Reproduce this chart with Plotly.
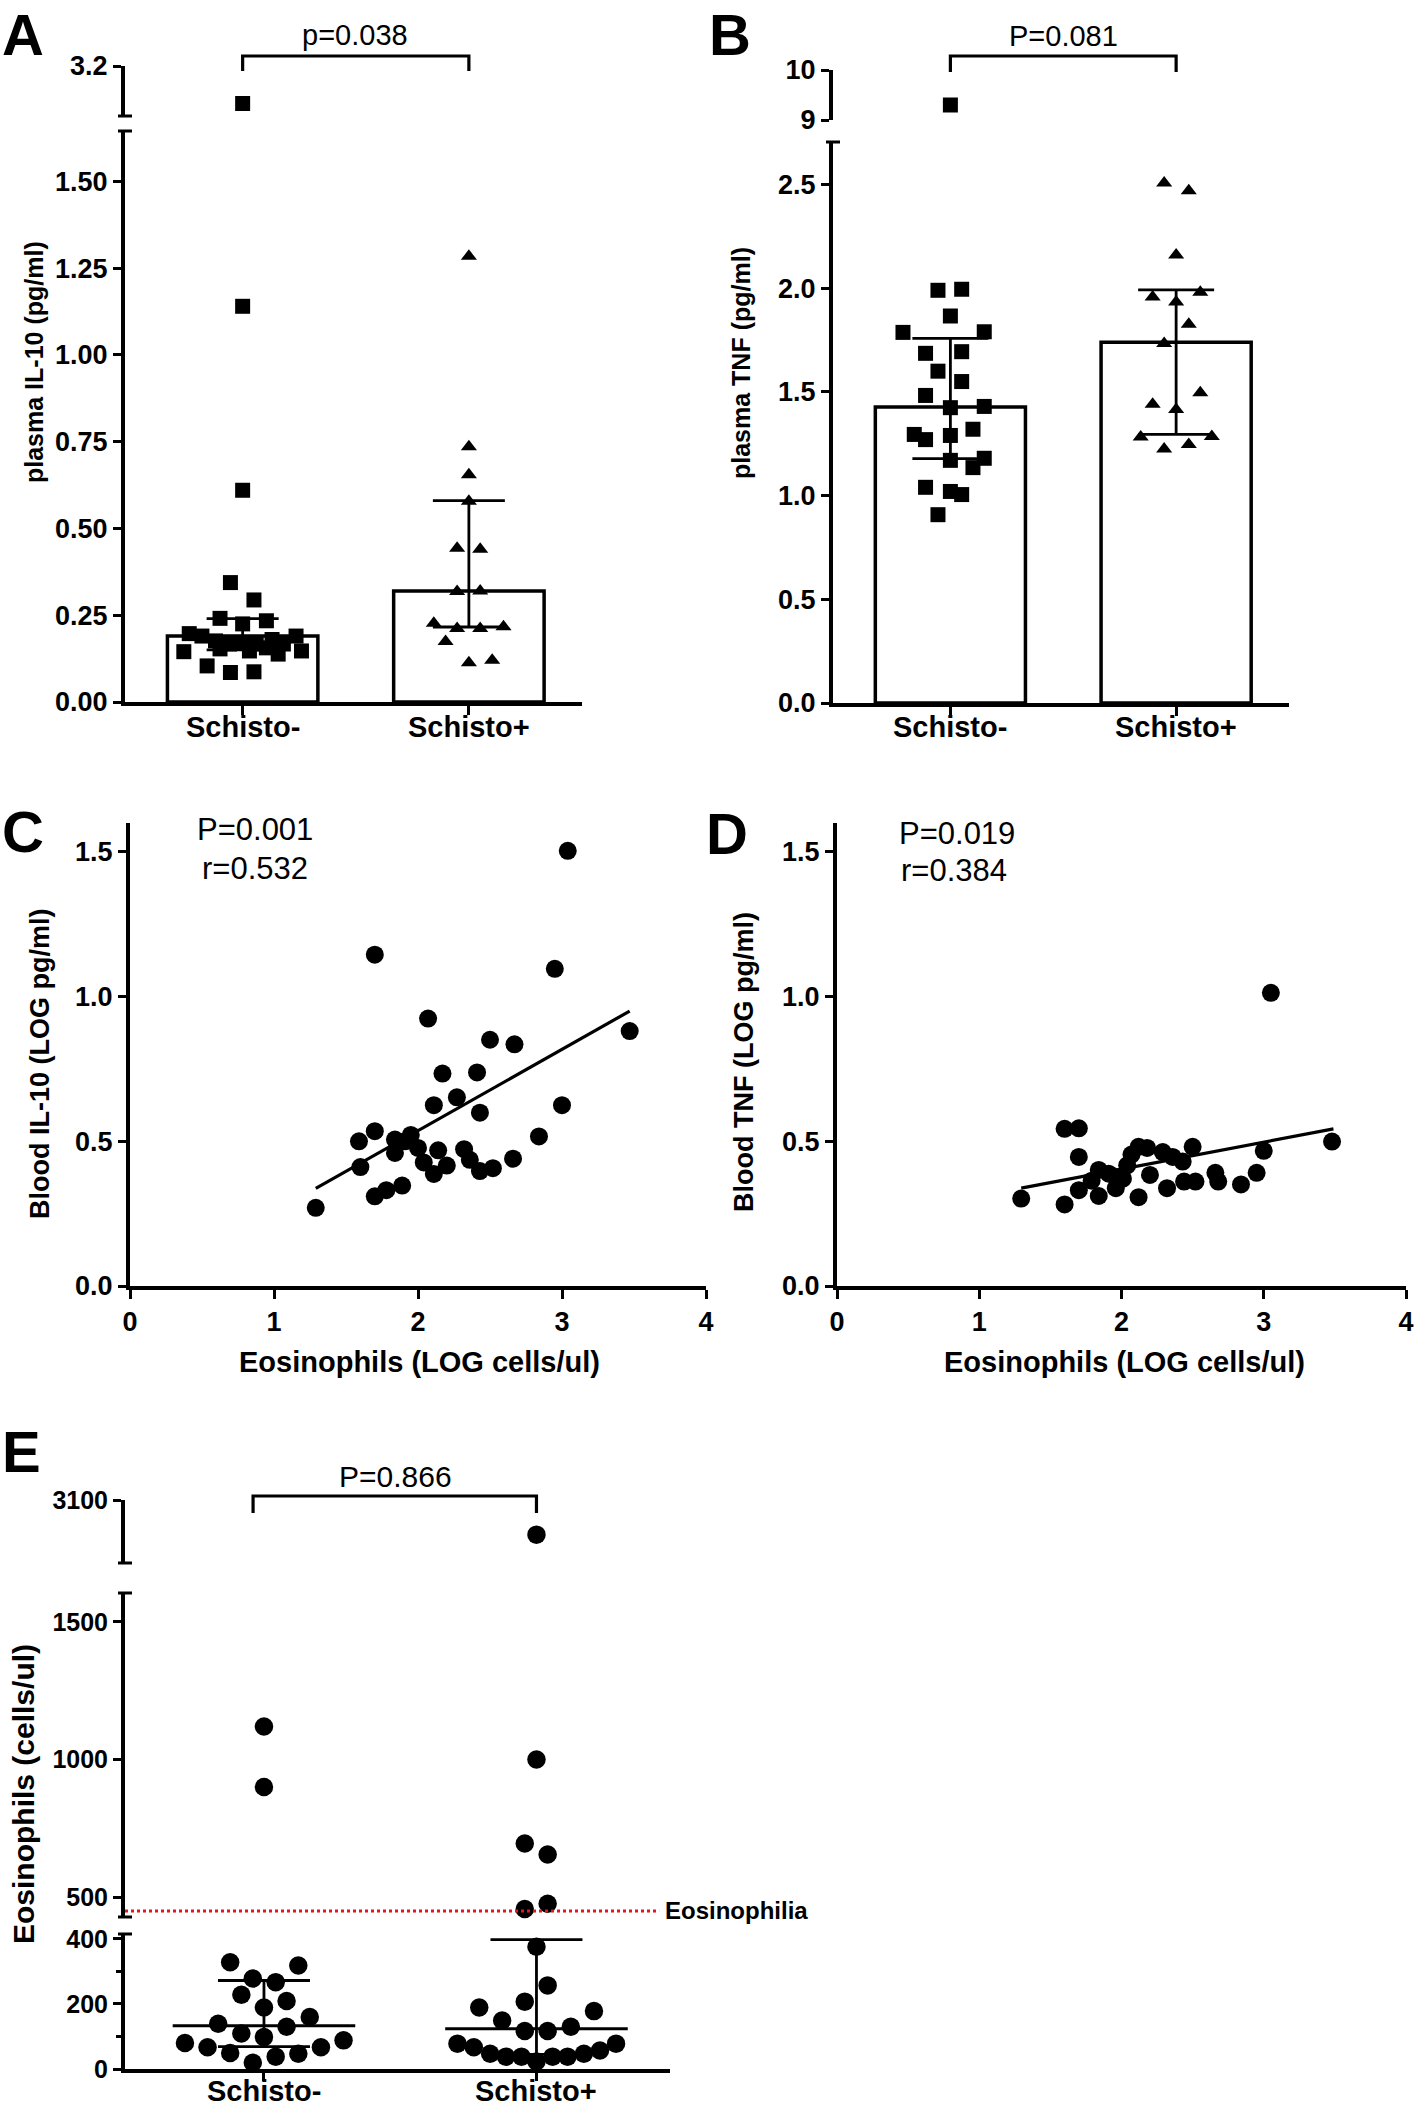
import plotly.graph_objects as go

W, H = 1418, 2107
FONT = "Liberation Sans, Arial, Helvetica, sans-serif"

# ------------------------------------------------------------------ data
groups = ["Schisto-", "Schisto+"]

# Panel A : plasma IL-10 (pg/ml)
a_neg_vals = [3.05, 1.14, 0.61, 0.344, 0.294, 0.241, 0.234, 0.225, 0.197, 0.19, 0.19, 0.176, 0.167,
              0.17, 0.167, 0.18, 0.167, 0.153, 0.147, 0.156, 0.145, 0.147, 0.138, 0.104, 0.085, 0.087]
a_neg_off = [0, 0, 0, -0.054, 0.05, -0.10, 0.105, 0, -0.236, 0.236, -0.18, -0.12, -0.058,
             0, 0.06, 0.13, 0.18, -0.10, 0.03, 0.105, -0.26, 0.26, 0.157, -0.157, -0.054, 0.05]
a_pos_vals = [1.284, 0.735, 0.655, 0.578, 0.443, 0.44, 0.318, 0.32, 0.227, 0.212, 0.212, 0.217, 0.174, 0.113, 0.12]
a_pos_off = [0, 0, 0, 0, -0.052, 0.05, -0.052, 0.05, -0.155, -0.052, 0.05, 0.153, -0.103, 0, 0.103]
a_bar = [0.19, 0.32]
a_hi = [0.24, 0.58]
a_lo = [0.15, 0.216]

# Panel B : plasma TNF (pg/ml)
b_neg_vals = [9.3, 1.99, 1.995, 1.866, 1.787, 1.79, 1.686, 1.694, 1.60, 1.55, 1.483, 1.424, 1.43,
              1.295, 1.27, 1.29, 1.32, 1.17, 1.18, 1.135, 1.04, 1.02, 1.005, 0.908]
b_neg_off = [0, -0.055, 0.05, 0, -0.21, 0.15, -0.11, 0.05, -0.055, 0.05, -0.11, 0, 0.15,
             -0.16, -0.11, 0, 0.10, 0, 0.15, 0.10, -0.11, 0, 0.05, -0.055]
b_pos_vals = [2.507, 2.47, 2.16, 1.958, 1.98, 1.934, 1.826, 1.734, 1.496, 1.44, 1.415, 1.283, 1.285, 1.225, 1.246]
b_pos_off = [-0.053, 0.056, 0, -0.104, 0.107, 0, 0.056, -0.053, 0.107, -0.104, 0, -0.157, 0.158, -0.053, 0.056]
b_bar = [1.427, 1.739]
b_hi = [1.758, 1.992]
b_lo = [1.178, 1.295]

# Panel C : blood IL-10 vs eosinophils (log)
c_x = [1.29, 1.70, 1.59, 1.60, 1.70, 1.70, 1.78, 1.84, 1.84, 1.89, 1.91, 1.95, 2.00, 2.04, 2.07, 2.11, 2.11, 2.14,
       2.17, 2.20, 2.27, 2.32, 2.36, 2.41, 2.43, 2.43, 2.50, 2.52, 2.66, 2.67, 2.84, 2.95, 3.00, 3.04, 3.47]
c_y = [0.270, 1.145, 0.50, 0.411, 0.535, 0.31, 0.331, 0.506, 0.46, 0.347, 0.50, 0.522, 0.477, 0.427, 0.924, 0.625,
       0.387, 0.469, 0.734, 0.416, 0.652, 0.473, 0.436, 0.738, 0.599, 0.397, 0.851, 0.407, 0.44, 0.835, 0.517,
       1.096, 0.625, 1.504, 0.881]
c_fit_x = [1.29, 3.47]
c_fit_y = [0.337, 0.950]

# Panel D : blood TNF vs eosinophils (log)
d_x = [1.295, 1.60, 1.70, 1.70, 1.60, 1.70, 1.79, 1.84, 1.84, 1.91, 1.96, 1.96, 2.01, 2.04, 2.07, 2.12, 2.18,
       2.12, 2.20, 2.29, 2.36, 2.43, 2.32, 2.44, 2.52, 2.50, 2.66, 2.68, 2.84, 2.95, 3.00, 3.05, 3.48]
d_y = [0.302, 0.543, 0.545, 0.446, 0.282, 0.331, 0.364, 0.401, 0.311, 0.388, 0.338, 0.377, 0.371, 0.417, 0.454,
       0.481, 0.477, 0.307, 0.384, 0.463, 0.446, 0.430, 0.338, 0.361, 0.361, 0.481, 0.391, 0.361, 0.351, 0.391,
       0.467, 1.013, 0.499]
d_fit_x = [1.295, 3.49]
d_fit_y = [0.338, 0.543]

# Panel E : eosinophils (cells/ul)
e_neg_vals = [1120, 900, 328, 318, 278, 267, 228, 209, 189, 160, 139, 130, 109, 98, 88, 80, 67, 67, 49, 47, 38, 19]
e_neg_off = [0, 0, -0.124, 0.126, -0.041, 0.043, -0.083, 0.083, 0, 0.168, -0.168, 0.083, -0.083, 0, 0.292,
             -0.29, -0.207, 0.209, -0.124, 0.126, 0.043, -0.041]
e_pos_vals = [2990, 1000, 695, 655, 476, 457, 376, 257, 207, 189, 178, 149, 130, 117, 117, 78, 78, 67, 57, 47, 47,
              38, 38, 38, 38, 23]
e_pos_off = [0, 0, -0.043, 0.041, 0.041, -0.043, 0, 0.041, -0.043, -0.21, 0.211, -0.126, 0.126, -0.043, 0.041,
             -0.29, 0.292, -0.23, 0.233, -0.17, 0.174, -0.112, -0.055, 0.059, 0.114, 0]
e_med = [133, 124]
e_hi = [272, 398]
e_lo = [69, 45]
eosinophilia = 450

# ------------------------------------------------------------------ helpers
def xdom(a, b):
    return [a / W, b / W]


def ydom(top, bot):
    return [1 - bot / H, 1 - top / H]


def px(p):
    return p / W


def py(p):
    return 1 - p / H


fig = go.Figure()
BLACK = "black"


def split_points(vals, offs, cat, segments):
    out = []
    for ya, lo, hi in segments:
        xs = [cat + o for v, o in zip(vals, offs) if lo <= v <= hi]
        ys = [v for v in vals if lo <= v <= hi]
        if xs:
            out.append((ya, xs, ys))
    return out


def add_group(vals, offs, cat, xa, segments, symbol, size):
    for ya, xs, ys in split_points(vals, offs, cat, segments):
        fig.add_trace(go.Scatter(x=xs, y=ys, xaxis=xa, yaxis=ya, mode="markers",
                                 marker=dict(symbol=symbol, size=size, color=BLACK, line=dict(width=0)),
                                 cliponaxis=False, showlegend=False, hoverinfo="skip"))


def add_bars(vals, xa, ya):
    fig.add_trace(go.Bar(x=[0, 1], y=vals, xaxis=xa, yaxis=ya, width=0.665,
                         marker=dict(color="white", line=dict(color=BLACK, width=3.5)),
                         showlegend=False, hoverinfo="skip"))


def add_err(center, hi, lo, xa, ya, capw):
    fig.add_trace(go.Scatter(x=[0, 1], y=center, xaxis=xa, yaxis=ya, mode="markers",
                             marker=dict(size=1, color="rgba(0,0,0,0)"),
                             error_y=dict(type="data", symmetric=False,
                                          array=[h - c for h, c in zip(hi, center)],
                                          arrayminus=[c - l for c, l in zip(center, lo)],
                                          color=BLACK, thickness=2.8, width=capw),
                             cliponaxis=False, showlegend=False, hoverinfo="skip"))


# ---------------- Panel A
A_LO = (0, 1.645)
A_HI = (3.0, 3.2)
add_bars(a_bar, "x", "y")
add_group(a_neg_vals, a_neg_off, 0, "x", [("y", *A_LO), ("y2", *A_HI)], "square", 15)
add_group(a_pos_vals, a_pos_off, 1, "x", [("y", *A_LO), ("y2", *A_HI)], "triangle-up", 14)
add_err(a_bar, a_hi, a_lo, "x", "y", 36)

# ---------------- Panel B
B_LO = (0, 2.705)
B_HI = (9, 10)
add_bars(b_bar, "x2", "y3")
add_group(b_neg_vals, b_neg_off, 0, "x2", [("y3", *B_LO), ("y4", *B_HI)], "square", 15)
add_group(b_pos_vals, b_pos_off, 1, "x2", [("y3", *B_LO), ("y4", *B_HI)], "triangle-up", 14)
add_err(b_bar, b_hi, b_lo, "x2", "y3", 38)

# ---------------- Panel C
fig.add_trace(go.Scatter(x=c_x, y=c_y, xaxis="x3", yaxis="y5", mode="markers",
                         marker=dict(symbol="circle", size=18, color=BLACK), cliponaxis=False,
                         showlegend=False, hoverinfo="skip"))
fig.add_trace(go.Scatter(x=c_fit_x, y=c_fit_y, xaxis="x3", yaxis="y5", mode="lines",
                         line=dict(color=BLACK, width=3.2), showlegend=False, hoverinfo="skip"))

# ---------------- Panel D
fig.add_trace(go.Scatter(x=d_x, y=d_y, xaxis="x4", yaxis="y6", mode="markers",
                         marker=dict(symbol="circle", size=18, color=BLACK), cliponaxis=False,
                         showlegend=False, hoverinfo="skip"))
fig.add_trace(go.Scatter(x=d_fit_x, y=d_fit_y, xaxis="x4", yaxis="y6", mode="lines",
                         line=dict(color=BLACK, width=3.2), showlegend=False, hoverinfo="skip"))

# ---------------- Panel E
E_LO = (0, 415)
E_MID = (428, 1605)
E_HI = (2900, 3100)
e_segs = [("y7", *E_LO), ("y8", *E_MID), ("y9", *E_HI)]
add_group(e_neg_vals, e_neg_off, 0, "x5", e_segs, "circle", 18.5)
add_group(e_pos_vals, e_pos_off, 1, "x5", e_segs, "circle", 18.5)
add_err(e_med, e_hi, e_lo, "x5", "y7", 46)
MED_HALF = 0.335
for i, m in enumerate(e_med):
    fig.add_trace(go.Scatter(x=[i - MED_HALF, i + MED_HALF], y=[m, m], xaxis="x5", yaxis="y7", mode="lines",
                             line=dict(color=BLACK, width=3), showlegend=False, hoverinfo="skip"))

# ------------------------------------------------------------------ axes
def tfont(size):
    return dict(family=FONT, size=size, color=BLACK, weight="bold")


def yax(domain, rng, anchor, tickvals, ticktext, size=27, **kw):
    d = dict(domain=domain, range=list(rng), anchor=anchor, showline=True, linecolor=BLACK, linewidth=4,
             ticks="outside", ticklen=8, tickwidth=3, tickcolor=BLACK, showgrid=False, zeroline=False,
             tickvals=tickvals, ticktext=ticktext, tickfont=tfont(size), fixedrange=True, ticklabelstandoff=0)
    d.update(kw)
    return d


def xax(domain, rng, anchor, tickvals, ticktext, size=27, **kw):
    d = dict(domain=domain, range=list(rng), anchor=anchor, showline=True, linecolor=BLACK, linewidth=4,
             ticks="outside", ticklen=9, tickwidth=3, tickcolor=BLACK, showgrid=False, zeroline=False,
             tickvals=tickvals, ticktext=ticktext, tickfont=tfont(size), fixedrange=True, ticklabelstandoff=0)
    d.update(kw)
    return d


a_ticks = [0, 0.25, 0.5, 0.75, 1.0, 1.25, 1.5]
b_ticks = [0, 0.5, 1.0, 1.5, 2.0, 2.5]
cd_yticks = [0, 0.5, 1.0, 1.5]
cd_xticks = [0, 1, 2, 3, 4]

fig.update_layout(
    width=W, height=H, margin=dict(l=0, r=0, t=0, b=0, autoexpand=False),
    paper_bgcolor="white", plot_bgcolor="white", showlegend=False, barmode="overlay",
    font=dict(family=FONT, color=BLACK),
    xaxis=xax(xdom(125, 582), (-0.52, 1.5), "y", [0, 1], groups, showticklabels=False),
    yaxis=yax(ydom(131, 702), A_LO, "x", a_ticks, [f"{v:.2f}" for v in a_ticks]),
    yaxis2=yax(ydom(66, 116), A_HI, "x", [3.2], ["3.2"]),
    xaxis2=xax(xdom(833, 1289), (-0.52, 1.5), "y3", [0, 1], groups, showticklabels=False),
    yaxis3=yax(ydom(142, 703), B_LO, "x2", b_ticks, [f"{v:.1f}" for v in b_ticks]),
    yaxis4=yax(ydom(70, 120), B_HI, "x2", [9, 10], ["9", "10"]),
    xaxis3=xax(xdom(130, 706), (0, 4), "y5", cd_xticks, [str(v) for v in cd_xticks], 27),
    yaxis5=yax(ydom(823, 1286), (0, 1.6), "x3", cd_yticks, [f"{v:.1f}" for v in cd_yticks], 27),
    xaxis4=xax(xdom(837, 1406), (0, 4), "y6", cd_xticks, [str(v) for v in cd_xticks], 27),
    yaxis6=yax(ydom(823, 1286), (0, 1.6), "x4", cd_yticks, [f"{v:.1f}" for v in cd_yticks], 27),
    xaxis5=xax(xdom(125, 670), (-0.51, 1.49), "y7", [0, 1], groups, ticklen=8, showticklabels=False),
    yaxis7=yax(ydom(1934, 2069), E_LO, "x5", [0, 200, 400], ["0", "200", "400"], 25,
               minor=dict(tickvals=[100, 300], ticks="outside", ticklen=5, tickwidth=3, tickcolor=BLACK)),
    yaxis8=yax(ydom(1593, 1917), E_MID, "x5", [500, 1000, 1500], ["500", "1000", "1500"], 25),
    yaxis9=yax(ydom(1500, 1563), E_HI, "x5", [3100], ["3100"], 25),
)

# ------------------------------------------------------------------ decorations
shapes = []
for cx, cy in [(125, 116), (125, 131), (833, 142), (125, 1563), (125, 1593), (125, 1917), (125, 1934)]:
    shapes.append(dict(type="line", xref="paper", yref="paper", x0=px(cx - 7), x1=px(cx + 7),
                       y0=py(cy), y1=py(cy), line=dict(color=BLACK, width=3)))


def bracket(xref, x0, x1, ytop, ybot):
    return dict(type="path", xref=xref, yref="paper",
                path=f"M {x0} {py(ybot)} L {x0} {py(ytop)} L {x1} {py(ytop)} L {x1} {py(ybot)}",
                line=dict(color=BLACK, width=3.2))


shapes.append(bracket("x", 0, 1, 56, 71))
shapes.append(bracket("x2", 0, 1, 56, 72))
shapes.append(bracket("x5", -0.04, 1.0, 1496, 1513))
shapes.append(dict(type="line", xref="x5", yref="y8", x0=-0.51, x1=1.45, y0=eosinophilia, y1=eosinophilia,
                   line=dict(color="#e8141b", width=3, dash="dot")))
fig.update_layout(shapes=shapes)

ann = []


def text(t, x, y, size, bold=False, angle=0, xanchor="center", yanchor="middle"):
    f = dict(family=FONT, size=size, color=BLACK)
    if bold:
        f["weight"] = "bold"
    ann.append(dict(text=t, x=px(x), y=py(y), xref="paper", yref="paper", showarrow=False,
                    xanchor=xanchor, yanchor=yanchor, textangle=angle, font=f))


def cat_label(t, xref, x, y):
    ann.append(dict(text=t, x=x, y=py(y), xref=xref, yref="paper", showarrow=False,
                    xanchor="center", yanchor="middle", font=tfont(29)))


# category labels
for i, g in enumerate(groups):
    cat_label(g, "x", i, 727)
    cat_label(g, "x2", i, 727)
    cat_label(g, "x5", i, 2091)

# panel letters
text("A", 0, 0, 58, True, xanchor="left", yanchor="top")
text("B", 707, 0, 58, True, xanchor="left", yanchor="top")
text("C", 0, 832, 58, True, xanchor="left")
text("D", 704, 834, 58, True, xanchor="left")
text("E", 0, 1451, 58, True, xanchor="left")
# statistics
text("p=0.038", 355, 35, 29)
text("P=0.081", 1063, 36, 29)
text("P=0.866", 395, 1476, 30)
text("P=0.001", 255, 829, 31)
text("r=0.532", 255, 868, 31)
text("P=0.019", 957, 833, 31)
text("r=0.384", 954, 871, 31)
# axis titles
text("plasma IL-10 (pg/ml)", 34, 362, 25, True, -90)
text("plasma TNF (pg/ml)", 741, 363, 25, True, -90)
text("Blood IL-10 (LOG pg/ml)", 40, 1064, 27, True, -90)
text("Blood TNF (LOG pg/ml)", 744, 1062, 27, True, -90)
text("Eosinophils (cells/ul)", 23, 1794, 30, True, -90)
text("Eosinophils (LOG cells/ul)", 419, 1362, 29, True)
text("Eosinophils (LOG cells/ul)", 1124, 1362, 29, True)
ann.append(dict(text="Eosinophilia", x=1.465, y=eosinophilia, xref="x5", yref="y8", showarrow=False,
                xanchor="left", yanchor="middle", font=dict(family=FONT, size=24, color=BLACK, weight="bold")))
fig.update_layout(annotations=ann)

fig.write_html("out.html", config={"displayModeBar": False},
               post_script="document.body.style.margin='0px';document.body.style.padding='0px';"
                           "document.documentElement.style.overflow='hidden';")
